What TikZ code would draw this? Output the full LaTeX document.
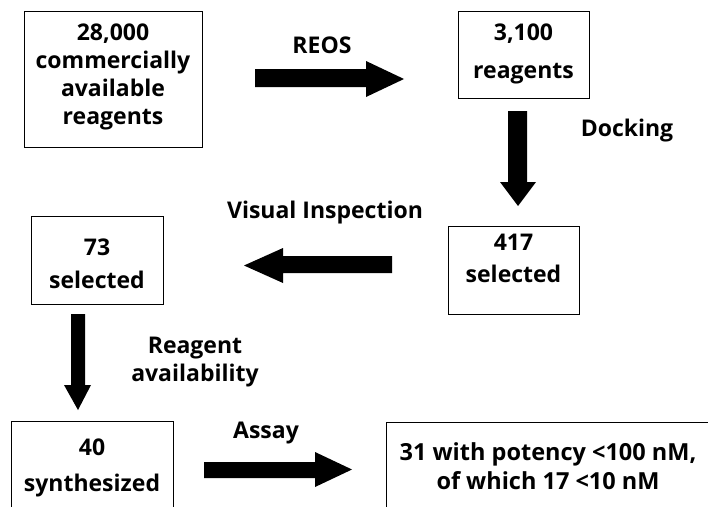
\documentclass[tikz,border=0pt]{standalone}
\usepackage{fontspec}
\setmainfont{Open Sans}
\begin{document}
\begin{tikzpicture}[x=1pt,y=-1pt,
  box/.style={draw=black,line width=0.8pt,inner sep=0pt},
  lbl/.style={font=\bfseries\fontsize{23}{28}\selectfont,align=center,inner sep=0pt},
  blk/.style={fill=black}]
\useasboundingbox (0,0) rectangle (708,506);
\clip (0,0) rectangle (708,506);
% boxes
\node[box,minimum width=178pt,minimum height=136pt] (b1) at (113,79) {};
\node[lbl] (t1) at (113,77) {28,000\\commercially\\available\\reagents};
\node[box,minimum width=131pt,minimum height=87pt] (b2) at (523.5,54.5) {};
\node[lbl,font=\bfseries\fontsize{23}{38}\selectfont] (t2) at (523.5,54) {3,100\\reagents};
\node[box,minimum width=131pt,minimum height=88pt] (b3) at (513.5,270) {};
\node[lbl,font=\bfseries\fontsize{23}{32}\selectfont] (t3) at (513.5,258) {417\\selected};
\node[box,minimum width=132pt,minimum height=88pt] (b4) at (97,260) {};
\node[lbl,font=\bfseries\fontsize{23}{33}\selectfont] (t4) at (97,264) {73\\selected};
\draw[line width=0.8pt] (11,530) |- (173,421) -- (173,530);
\node[lbl,font=\bfseries\fontsize{23}{36}\selectfont] (t5) at (92,468) {40\\synthesized};
\draw[line width=0.8pt] (386,530) |- (720,422);
\node[lbl,font=\bfseries\fontsize{23.5}{29}\selectfont] (t6) at (548,466) {31 with potency <100 nM,\\of which 17 <10 nM};
% labels
\node[lbl] (l1) at (322,45) {REOS};
\node[lbl] (l2) at (627,131) {Docking};
\node[lbl] (l3) at (325,213) {Visual Inspection};
\node[lbl] (l4) at (195,362) {Reagent\\availability};
\node[lbl] (l5) at (266,433) {Assay};
% block arrows
\fill[blk] (255,69) -- (366,69) -- (366,61) -- (404,79) -- (366,97) -- (366,87) -- (255,87) -- cycle;
\fill[blk] (508,111) -- (527,111) -- (527,182) -- (536,182) -- (518,206) -- (500,182) -- (508,182) -- cycle;
\fill[blk] (392,256) -- (283,256) -- (283,248) -- (244,265.5) -- (283,283) -- (283,273) -- (392,273) -- cycle;
\fill[blk] (71,314) -- (85,314) -- (85,385) -- (91,385) -- (78,410) -- (64,385) -- (71,385) -- cycle;
\fill[blk] (204,462) -- (315,462) -- (315,452) -- (352,469.5) -- (315,487) -- (315,478) -- (204,478) -- cycle;
\end{tikzpicture}
\end{document}
